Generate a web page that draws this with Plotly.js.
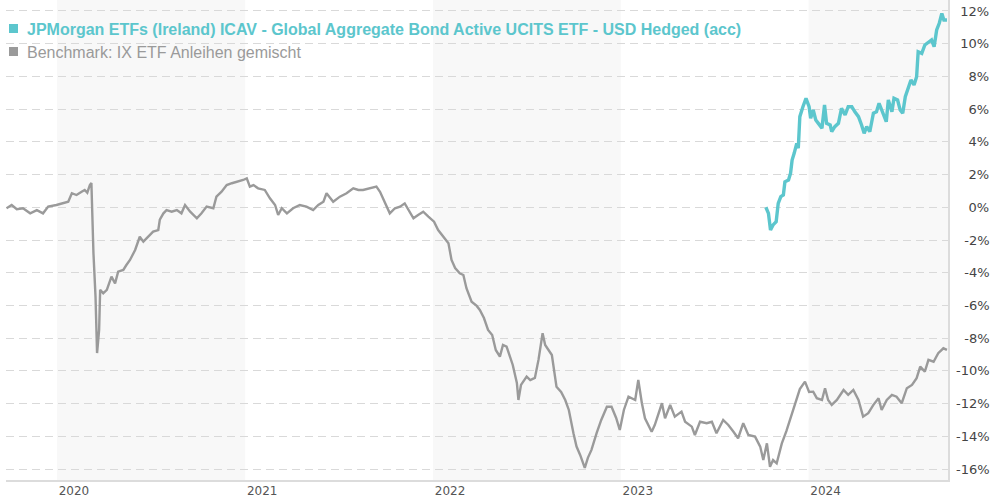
<!DOCTYPE html>
<html>
<head>
<meta charset="utf-8">
<script src="https://cdn.plot.ly/plotly-3.0.1.min.js"></script>
<style>
  html, body { margin: 0; padding: 0; background: #ffffff; }
  #chart { width: 990px; height: 500px; }
</style>
</head>
<body>
<div id="chart"></div>
<script>
// ---------- data ----------
const fundName = "JPMorgan ETFs (Ireland) ICAV - Global Aggregate Bond Active UCITS ETF - USD Hedged (acc)";
const benchName = "Benchmark: IX ETF Anleihen gemischt";

const benchDates = [
"2019-09-25","2019-10-05","2019-10-15","2019-10-27","2019-11-10","2019-11-23","2019-12-05","2019-12-15","2019-12-31",
"2020-01-13","2020-01-23","2020-01-30","2020-02-08","2020-02-18","2020-02-24","2020-02-29","2020-03-05","2020-03-08","2020-03-10","2020-03-12","2020-03-16","2020-03-18","2020-03-19","2020-03-23","2020-03-25","2020-03-31",
"2020-04-07","2020-04-16","2020-04-23","2020-04-29","2020-05-09","2020-05-15","2020-05-22","2020-06-01","2020-06-10","2020-06-17","2020-06-26","2020-07-06","2020-07-16","2020-07-19","2020-07-26","2020-08-01","2020-08-11","2020-08-21","2020-08-30","2020-09-06","2020-09-16","2020-09-29","2020-10-08","2020-10-18","2020-10-31","2020-11-06","2020-11-16","2020-11-26","2020-12-06","2020-12-18","2020-12-28",
"2021-01-04","2021-01-10","2021-01-17","2021-01-26","2021-02-08","2021-02-18","2021-02-28","2021-03-06","2021-03-13","2021-03-23","2021-04-04","2021-04-17","2021-04-30","2021-05-13","2021-05-23","2021-06-02","2021-06-08","2021-06-21","2021-07-04","2021-07-17","2021-07-30","2021-08-09","2021-08-18","2021-08-31","2021-09-13","2021-09-20","2021-09-30","2021-10-09","2021-10-19","2021-10-29","2021-11-07","2021-11-14","2021-11-24","2021-12-03","2021-12-13","2021-12-23",
"2022-01-03","2022-01-11","2022-01-21","2022-01-31","2022-02-06","2022-02-13","2022-02-22","2022-03-01","2022-03-07","2022-03-17","2022-03-27","2022-04-02","2022-04-10","2022-04-18","2022-04-26","2022-05-03","2022-05-11","2022-05-17","2022-05-24","2022-05-31","2022-06-05","2022-06-13","2022-06-16","2022-06-21","2022-07-02","2022-07-09","2022-07-18","2022-07-25","2022-08-02","2022-08-07","2022-08-13","2022-08-20","2022-08-29","2022-09-07","2022-09-15","2022-09-22","2022-10-01","2022-10-07","2022-10-14","2022-10-23","2022-10-29","2022-11-05","2022-11-15","2022-11-24","2022-12-05","2022-12-14","2022-12-23","2022-12-30",
"2023-01-07","2023-01-16","2023-01-29","2023-02-04","2023-02-11","2023-02-17","2023-03-02","2023-03-08","2023-03-22","2023-03-28","2023-04-07","2023-04-16","2023-04-29","2023-05-06","2023-05-19","2023-05-25","2023-06-04","2023-06-17","2023-06-27","2023-07-06","2023-07-19","2023-07-29","2023-08-08","2023-08-17","2023-08-27","2023-09-06","2023-09-19","2023-09-29","2023-10-05","2023-10-12","2023-10-18","2023-10-24","2023-10-31","2023-11-10","2023-11-19","2023-11-29","2023-12-06","2023-12-15","2023-12-25",
"2024-01-02","2024-01-10","2024-01-17","2024-01-27","2024-02-02","2024-02-08","2024-02-15","2024-02-25","2024-03-09","2024-03-18","2024-03-28","2024-04-07","2024-04-16","2024-04-26","2024-05-06","2024-05-16","2024-05-22","2024-06-01","2024-06-11","2024-06-20","2024-06-30","2024-07-10","2024-07-20","2024-07-29","2024-08-05","2024-08-14","2024-08-21","2024-08-31","2024-09-09","2024-09-19","2024-09-26"
];
const benchValues = [
-0.06, 0.14, -0.12, -0.06, -0.37, -0.17, -0.37, 0.04, 0.14,
0.24, 0.34, 0.86, 0.75, 0.95, 1.06, 0.89, 1.36, 1.48, -0.78, -2.81, -5.46, -7.91, -8.91, -7.50, -5.05, -5.26,
-5.05, -4.24, -4.65, -3.94, -3.83, -3.53, -3.22, -2.61, -1.80, -2.10, -1.80, -1.49, -1.39, -0.75, -0.37, -0.17, -0.27, -0.17, -0.37, 0.14, -0.27, -0.67, -0.37, 0.04, -0.06, 0.65, 0.95, 1.36, 1.47, 1.56, 1.67,
1.77, 1.26, 1.36, 1.16, 1.06, 0.55, 0.14, -0.47, -0.06, -0.37, -0.06, 0.14, 0.04, -0.17, 0.14, 0.34, 0.86, 0.34, 0.65, 0.86, 1.16, 1.06, 1.06, 1.16, 1.26, 0.95, 0.24, -0.37, -0.06, 0.04, 0.24, -0.17, -0.67, -0.47, -0.27, -0.57,
-0.88, -1.39, -1.80, -2.20, -3.22, -3.71, -4.03, -4.14, -4.95, -5.77, -6.03, -6.28, -6.77, -7.50, -7.81, -8.72, -9.13, -8.42, -8.52, -9.13, -9.64, -10.74, -11.78, -10.86, -10.35, -10.56, -10.43, -9.33, -7.70, -8.42, -8.72, -9.03, -10.97, -11.29, -11.78, -12.39, -13.81, -14.63, -15.14, -15.93, -15.32, -14.83, -13.81, -13.00, -12.19, -12.19, -12.88, -13.61,
-12.39, -11.58, -11.78, -10.56, -11.98, -12.90, -13.72, -13.31, -11.98, -12.90, -12.08, -12.80, -12.49, -13.11, -13.41, -13.92, -13.11, -13.20, -13.11, -13.81, -13.00, -13.31, -13.72, -14.12, -13.20, -13.92, -14.02, -14.63, -15.45, -14.43, -15.86, -15.45, -15.65, -14.43, -13.67, -12.70, -11.98, -11.11, -10.66,
-11.29, -11.27, -11.67, -11.78, -11.06, -11.78, -12.08, -11.78, -11.17, -11.47, -11.17, -11.78, -12.80, -12.59, -12.08, -11.67, -12.39, -11.78, -11.47, -11.58, -11.98, -11.06, -10.86, -10.45, -9.74, -10.05, -9.33, -9.44, -8.92, -8.62, -8.72
];

const fundDates = [
"2023-10-10","2023-10-15","2023-10-19","2023-10-24","2023-10-30","2023-11-03","2023-11-08","2023-11-13","2023-11-16","2023-11-23","2023-11-27","2023-11-30","2023-12-04","2023-12-09","2023-12-12","2023-12-15","2023-12-21","2023-12-27",
"2024-01-02","2024-01-05","2024-01-10","2024-01-15","2024-01-20","2024-01-27","2024-02-01","2024-02-05","2024-02-12","2024-02-15","2024-02-21","2024-02-28","2024-03-05","2024-03-12","2024-03-18","2024-03-25","2024-03-31","2024-04-07","2024-04-13","2024-04-18","2024-04-23","2024-04-29","2024-05-06","2024-05-12","2024-05-17","2024-05-22","2024-05-31","2024-06-04","2024-06-11","2024-06-15","2024-06-22","2024-06-27","2024-07-02","2024-07-07","2024-07-13","2024-07-18","2024-07-24","2024-07-29","2024-08-01","2024-08-08","2024-08-14","2024-08-21","2024-08-27","2024-09-01","2024-09-06","2024-09-11","2024-09-16","2024-09-20","2024-09-26"
];
const fundValues = [
0.00, -0.37, -1.39, -1.08, -0.88, 0.24, 0.65, 0.75, 1.56, 1.67, 2.08, 2.89, 3.30, 3.91, 3.61, 5.54, 6.15, 6.66,
6.15, 5.44, 5.95, 5.34, 5.13, 4.83, 6.25, 5.13, 5.03, 4.62, 4.93, 5.13, 6.05, 5.64, 6.15, 6.15, 5.84, 5.54, 5.03, 4.52, 4.93, 4.62, 5.75, 5.84, 6.36, 5.95, 5.23, 6.56, 5.84, 6.66, 6.56, 5.95, 5.75, 6.76, 7.37, 7.78, 7.48, 7.98, 9.51, 9.41, 9.92, 10.12, 10.23, 9.82, 10.84, 11.25, 11.85, 11.45, 11.45
];

const yearTicks = ["2020-01-01","2021-01-01","2022-01-01","2023-01-01","2024-01-01"];
const yearLabels = ["2020","2021","2022","2023","2024"];
const shadedYears = [["2020-01-01","2021-01-01"],["2022-01-01","2023-01-01"],["2024-01-01","2025-01-01"]];
const yTickValues = [12,10,8,6,4,2,0,-2,-4,-6,-8,-10,-12,-14,-16];
const yTickLabels = ["\u200812%","\u200810%","\u2007\u20088%","\u2007\u20086%","\u2007\u20084%","\u2007\u20082%","\u2007\u20080%","\u2007-2%","\u2007-4%","\u2007-6%","\u2007-8%","-10%","-12%","-14%","-16%"];

// ---------- styles ----------
const fundColor = "#5cc6cd";
const benchColor = "#9a9a9a";

const traces = [
  { type: "scatter", mode: "lines", x: benchDates, y: benchValues, name: benchName,
    line: { color: benchColor, width: 2.4 }, hoverinfo: "x+y" },
  { type: "scatter", mode: "lines", x: fundDates, y: fundValues, name: fundName,
    line: { color: fundColor, width: 3.4 }, hoverinfo: "x+y" }
];

const shapes = shadedYears.map(r => ({
  type: "rect", xref: "x", yref: "paper", x0: r[0], x1: r[1], y0: 0, y1: 1,
  fillcolor: "#f8f8f8", line: { width: 0 }, layer: "below"
}));
// legend squares
shapes.push({ type: "rect", xref: "paper", yref: "paper", xsizemode: "pixel", ysizemode: "pixel",
  xanchor: 0, yanchor: 1, x0: 3, x1: 12, y0: -24, y1: -33, fillcolor: fundColor, line: { width: 0 } });
shapes.push({ type: "rect", xref: "paper", yref: "paper", xsizemode: "pixel", ysizemode: "pixel",
  xanchor: 0, yanchor: 1, x0: 3, x1: 12, y0: -47, y1: -56, fillcolor: benchColor, line: { width: 0 } });

const annotations = [
  { xref: "paper", yref: "paper", x: 0, y: 1, xanchor: "left", yanchor: "middle", xshift: 19, yshift: -29,
    text: "<b>" + fundName + "</b>", showarrow: false,
    font: { family: "Liberation Sans, Arial, sans-serif", size: 16, color: fundColor } },
  { xref: "paper", yref: "paper", x: 0, y: 1, xanchor: "left", yanchor: "middle", xshift: 19, yshift: -52,
    text: benchName, showarrow: false,
    font: { family: "Liberation Sans, Arial, sans-serif", size: 16, color: benchColor } }
];

const layout = {
  width: 990, height: 500,
  margin: { l: 6, r: 42, t: 0, b: 20, pad: 0 },
  paper_bgcolor: "#ffffff", plot_bgcolor: "#ffffff",
  showlegend: false,
  xaxis: {
    type: "date", range: ["2019-09-24", "2024-09-28"],
    tickmode: "array", tickvals: yearTicks, ticktext: yearLabels,
    ticks: "", showgrid: false, zeroline: false,
    showline: true, linecolor: "#dcdcdc", linewidth: 1.5,
    ticklabelshift: 17, ticklabelstandoff: -1,
    tickfont: { family: "DejaVu Sans, Verdana, sans-serif", size: 12, color: "#555555" }
  },
  yaxis: {
    side: "right", range: [-16.672, 12.672],
    tickmode: "array", tickvals: yTickValues, ticktext: yTickLabels,
    ticks: "", showgrid: true, gridcolor: "#d9d9d9", gridwidth: 1, griddash: "8px,5px",
    zeroline: false, showline: true, linecolor: "#dcdcdc", linewidth: 1.5,
    ticklabelstandoff: 4,
    tickfont: { family: "DejaVu Sans, Verdana, sans-serif", size: 13, color: "#444444" }
  },
  shapes: shapes,
  annotations: annotations
};

Plotly.newPlot("chart", traces, layout, { displayModeBar: false, staticPlot: true });
</script>
</body>
</html>
